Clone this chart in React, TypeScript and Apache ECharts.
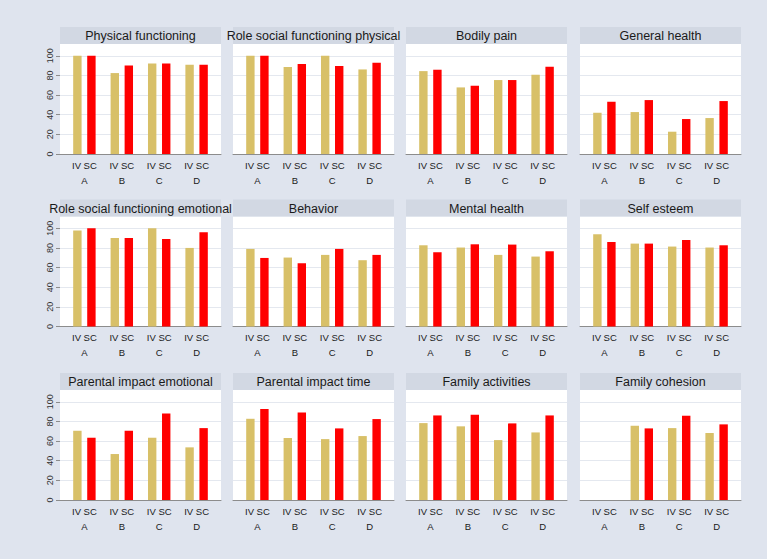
import React, { useEffect, useRef } from "react";
import * as echarts from "echarts";

const groups = ["A", "B", "C", "D"];
const barLabels = ["IV", "SC"];
const yTicks = [0, 20, 40, 60, 80, 100];
const panelTitles = [
  "Physical functioning",
  "Role social functioning physical",
  "Bodily pain",
  "General health",
  "Role social functioning emotional",
  "Behavior",
  "Mental health",
  "Self esteem",
  "Parental impact emotional",
  "Parental impact time",
  "Family activities",
  "Family cohesion",
];
const ivValues: (number | null)[][] = [
  [100, 82.4, 92.2, 91],
  [100, 88.5, 100, 86.1],
  [84.4, 67.8, 75.3, 80.7],
  [42, 42.7, 22.7, 36.6],
  [97.7, 90.2, 100, 80],
  [79, 70.2, 72.9, 67.5],
  [82.7, 80.4, 72.9, 71.2],
  [93.9, 84.4, 81.4, 80.4],
  [70.5, 46.8, 63.4, 53.6],
  [82.7, 63.1, 62, 65.1],
  [78.3, 75, 61, 68.8],
  [null, 75.6, 73.2, 68.2],
];
const scValues: (number | null)[][] = [
  [100, 90.2, 92.2, 91],
  [100, 91.6, 89.5, 92.9],
  [85.8, 69.5, 75.3, 88.8],
  [53.2, 54.9, 35.6, 53.9],
  [100, 90.2, 89.2, 96],
  [69.8, 64.4, 79, 72.9],
  [75.6, 83.7, 83.4, 76.6],
  [86.1, 84.4, 88.2, 82.7],
  [63.4, 70.5, 88.2, 73.2],
  [92.6, 89.2, 72.9, 82.4],
  [86.1, 86.8, 78, 86.1],
  [null, 72.9, 85.8, 77],
];

const FONT = "'Liberation Sans', Arial, Helvetica, sans-serif";
const BG = "#dfe4ee";
const STRIP = "#d2d8e3";
const IV_COLOR = "#d8c068";
const SC_COLOR = "#ff0000";

export default function App() {
  const ref = useRef<HTMLDivElement>(null);
  useEffect(() => {
    document.body.style.margin = "0";
    if (!ref.current) return;
    const chart = echarts.init(ref.current, null, { renderer: "svg" });

    const colLefts = [60, 233, 406, 580];
    const rowTops = [27, 199.5, 373];
    const panelW = 161;
    const headerH = 17;
    const plotH = 110;
    const inset = 5.7;
    const yMax = 112;
    const tickLen = 4;

    const grid: any[] = [];
    const xAxis: any[] = [];
    const yAxis: any[] = [];
    const series: any[] = [];
    const graphic: any[] = [];

    panelTitles.forEach((title, i) => {
      const r = Math.floor(i / 4);
      const c = i % 4;
      const left = colLefts[c];
      const top = rowTops[r] + headerH;
      grid.push({
        left,
        top,
        width: panelW,
        height: plotH,
        show: true,
        backgroundColor: "#ffffff",
        borderWidth: 0,
      });
      grid.push({
        left: left + inset,
        top,
        width: panelW - 2 * inset,
        height: plotH,
      });
      const bgIdx = 2 * i;
      const barIdx = 2 * i + 1;
      xAxis.push({
        type: "value",
        gridIndex: bgIdx,
        min: 0,
        max: 1,
        position: "bottom",
        axisLine: { show: true, lineStyle: { color: "#8c8c8c", width: 1 } },
        axisTick: { show: false },
        axisLabel: { show: false },
        splitLine: { show: false },
      });
      xAxis.push({
        type: "category",
        gridIndex: barIdx,
        data: groups,
        axisLine: { show: false },
        axisTick: { show: false },
        splitLine: { show: false },
        axisLabel: {
          show: true,
          margin: 3.5,
          interval: 0,
          formatter: (v: string) => `{a|${barLabels.join(" ")}}\n{b|${v}}`,
          rich: {
            a: { fontSize: 9.5, lineHeight: 15, color: "#1a1a1a", fontFamily: FONT },
            b: { fontSize: 9.5, lineHeight: 15, color: "#1a1a1a", fontFamily: FONT },
          },
        },
      });
      yAxis.push({
        type: "value",
        gridIndex: bgIdx,
        min: 0,
        max: yMax,
        interval: 20,
        axisLine: { show: false },
        axisTick: {
          show: c === 0,
          length: tickLen,
          customValues: yTicks,
          lineStyle: { color: "#8c8c8c" },
        },
        axisLabel: { show: false },
        splitLine: { show: true, lineStyle: { color: "#e4e8ef", width: 1 } },
      });
      yAxis.push({
        type: "value",
        gridIndex: barIdx,
        min: 0,
        max: yMax,
        show: false,
        splitLine: { show: false },
      });
      series.push({
        type: "bar",
        name: barLabels[0],
        xAxisIndex: barIdx,
        yAxisIndex: barIdx,
        data: ivValues[i],
        barWidth: 8.4,
        barGap: "67%",
        itemStyle: { color: IV_COLOR },
      });
      series.push({
        type: "bar",
        name: barLabels[1],
        xAxisIndex: barIdx,
        yAxisIndex: barIdx,
        data: scValues[i],
        barWidth: 8.4,
        barGap: "67%",
        itemStyle: { color: SC_COLOR },
      });
      graphic.push({
        type: "rect",
        silent: true,
        shape: { x: left, y: rowTops[r], width: panelW, height: headerH },
        style: { fill: STRIP },
      });
      graphic.push({
        type: "text",
        silent: true,
        z: 10,
        x: left + panelW / 2,
        y: rowTops[r] + headerH / 2 + 0.5,
        style: {
          text: title,
          align: "center",
          verticalAlign: "middle",
          fontSize: 12.5,
          fontFamily: FONT,
          fill: "#1a1a1a",
        },
      });
    });

    chart.setOption({
      animation: false,
      backgroundColor: BG,
      textStyle: { fontFamily: FONT },
      grid,
      xAxis,
      yAxis,
      series,
      graphic,
    });

    // Rotated y tick labels placed through the library's own y scale
    const labelTexts: any[] = [];
    rowTops.forEach((_, r) => {
      const bgIdx = 2 * (r * 4);
      yTicks.forEach((v) => {
        const py = chart.convertToPixel({ yAxisIndex: bgIdx }, v) as number;
        labelTexts.push({
          type: "text",
          silent: true,
          z: 10,
          x: colLefts[0] - tickLen - 6.5,
          y: py,
          rotation: Math.PI / 2,
          style: {
            text: String(v),
            align: "center",
            verticalAlign: "middle",
            fontSize: 9,
            fontFamily: FONT,
            fill: "#333333",
          },
        });
      });
    });
    chart.setOption({ graphic: [...graphic, ...labelTexts] });

    return () => chart.dispose();
  }, []);
  return <div ref={ref} style={{ width: 767, height: 559 }} />;
}
